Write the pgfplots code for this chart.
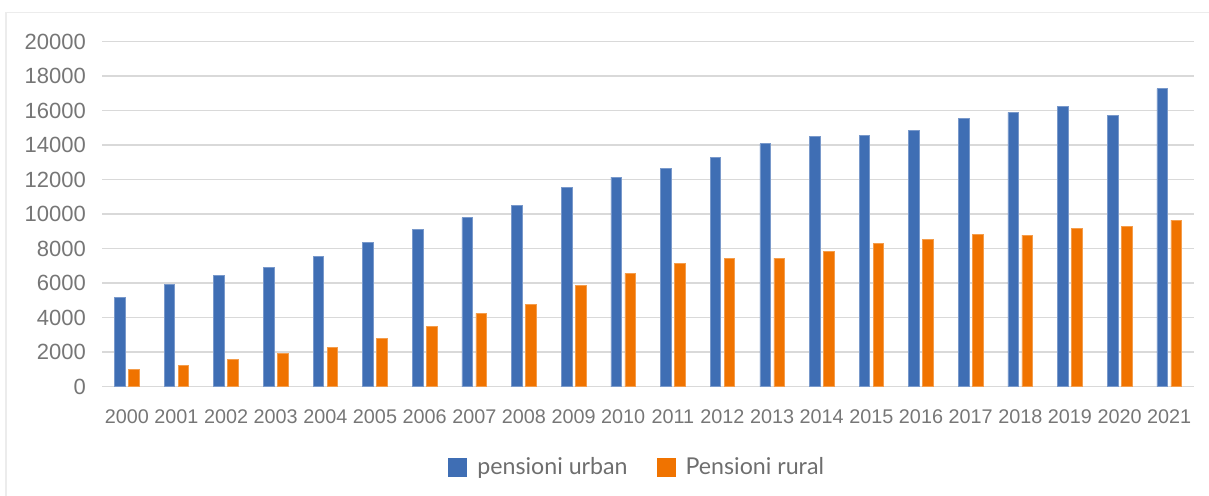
\documentclass[border=0pt]{standalone}
\usepackage{fontspec}
\setmainfont{Liberation Sans}
\newfontfamily\legfont{Lato}
\usepackage{pgfplots}
\pgfplotsset{compat=1.18}
\definecolor{cblue}{RGB}{63,110,180}
\definecolor{corange}{RGB}{240,115,0}
\definecolor{tickgray}{RGB}{118,118,118}
\definecolor{leggray}{RGB}{110,110,110}
\definecolor{gridgray}{RGB}{217,217,217}
\definecolor{framegray}{RGB}{236,236,236}
\begin{document}
\begin{tikzpicture}
\path[use as bounding box] (0,0) rectangle (604.5pt,248pt);
\draw[framegray, line width=0.6pt] (3pt,-10pt) -- (3pt,241.6pt) -- (620pt,241.6pt);
\begin{axis}[
  at={(51pt,54.65pt)}, anchor=south west,
  scale only axis, width=546pt, height=172.5pt,
  ybar, bar width=5.3pt,
  xmin=-0.5, xmax=21.5, ymin=0, ymax=20000,
  xtick=data,
  xticklabels={2000,2001,2002,2003,2004,2005,2006,2007,2008,2009,2010,2011,2012,2013,2014,2015,2016,2017,2018,2019,2020,2021},
  ytick={0,2000,...,20000},
  scaled y ticks=false,
  ymajorgrids, grid style={gridgray, line width=0.75pt},
  axis line style={draw=none},
  major tick length=0pt,
  /pgf/number format/assume math mode=true,
  /pgf/number format/1000 sep={},
  yticklabel style={font=\fontsize{11}{13}\selectfont, text=tickgray, anchor=east, inner sep=0pt, xshift=-7.85pt,
    /pgf/number format/fixed, /pgf/number format/precision=0},
  xticklabel style={font=\fontsize{9.9}{12}\selectfont, text=tickgray, anchor=center, inner sep=0pt, yshift=-15pt},
  legend style={at={(0.491,-0.2328)}, anchor=center, draw=none, fill=none,
    font=\legfont\fontsize{11.6}{14}\selectfont, text=leggray,
    /tikz/every even column/.append style={column sep=12.5pt}},
  legend columns=2,
  legend image code/.code={\path[#1,draw=none] (0pt,-4.75pt) rectangle (9.5pt,4.75pt); \path[draw=none,fill=none] (0pt,0pt) -- (12.5pt,0pt);},
]
\addplot[fill=cblue, draw=cblue!70!white, line width=0.3pt, bar shift=-3.5pt] coordinates {
(0,5180) (1,5913) (2,6454) (3,6918) (4,7556) (5,8386) (6,9140) (7,9797) (8,10531) (9,11536) (10,12155)
(11,12676) (12,13314) (13,14087) (14,14531) (15,14589) (16,14879) (17,15536) (18,15903) (19,16271) (20,15749) (21,17275)};
\addplot[fill=corange, draw=corange!70!white, line width=0.3pt, bar shift=3.5pt] coordinates {
(0,1005) (1,1256) (2,1565) (3,1932) (4,2300) (5,2821) (6,3517) (7,4251) (8,4773) (9,5855) (10,6570)
(11,7150) (12,7459) (13,7459) (14,7845) (15,8329) (16,8560) (17,8812) (18,8792) (19,9179) (20,9314) (21,9662)};
\legend{pensioni urban, Pensioni rural}
\end{axis}
\end{tikzpicture}
\end{document}
